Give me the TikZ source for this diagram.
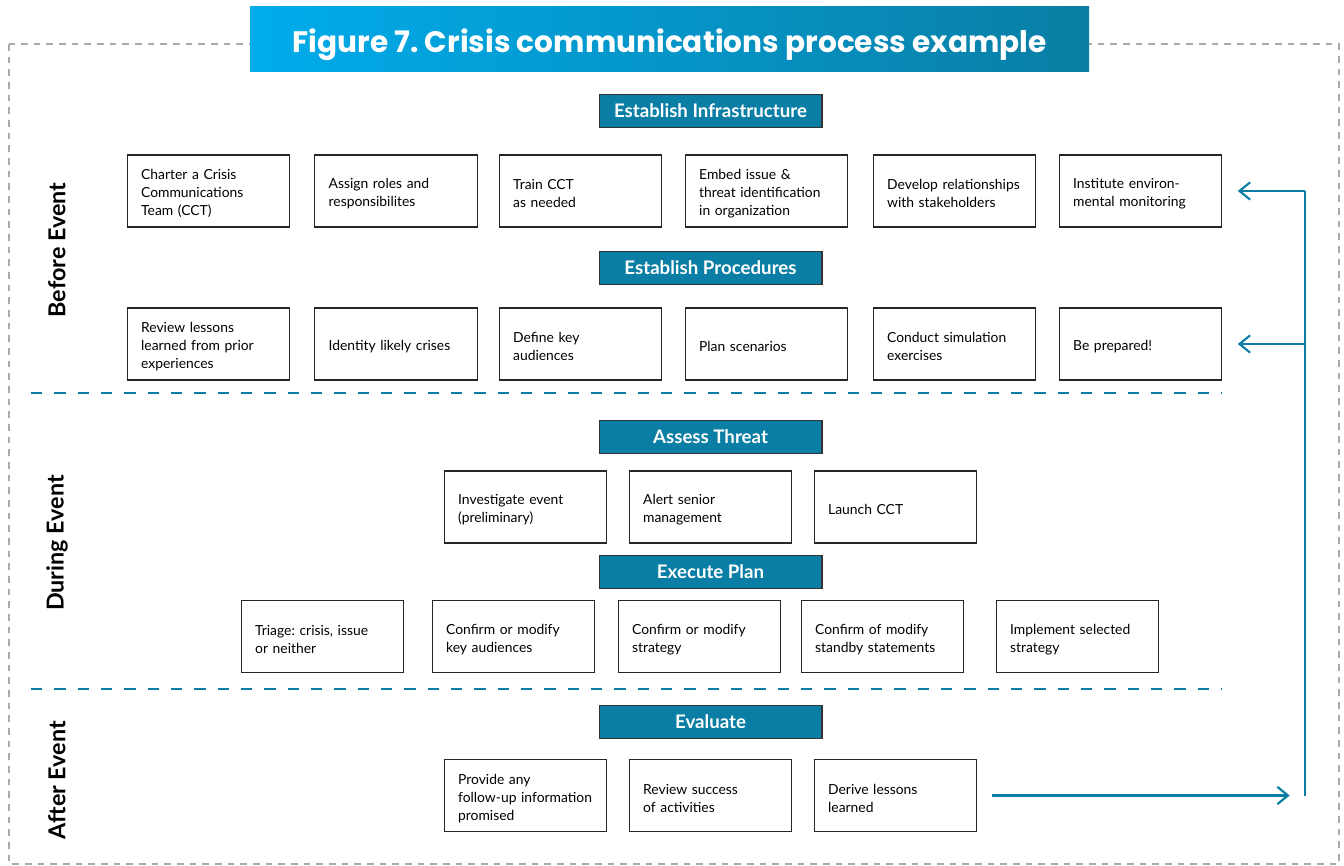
\documentclass[tikz,border=0pt]{standalone}
\usepackage{fontspec}
\setmainfont{Lato}
\newfontfamily\titlefont{Poppins}
\usetikzlibrary{arrows.meta}
\frenchspacing

\definecolor{teal}{RGB}{10,126,164}
\definecolor{skyblue}{RGB}{0,172,236}
\definecolor{framegray}{RGB}{170,170,170}

\tikzset{every picture/.style={line width=0.75pt}}
\tikzset{
  stepbox/.style={draw=black!85, line width=0.9pt, fill=white, align=left, text width=101pt,
    inner xsep=10.5pt, minimum height=54pt, font=\fontsize{10.4}{13.5}\selectfont,
    execute at begin node={\rule{0pt}{12pt}}},
  headbox/.style={draw=black!80, line width=1pt, fill=teal, text=white, minimum width=167pt,
    minimum height=24.75pt, inner sep=0pt, font=\fontsize{14}{16}\selectfont\bfseries},
  phase/.style={rotate=90, font=\fontsize{17.5}{20}\selectfont\bfseries},
  divider/.style={draw=teal, line width=2pt, dash pattern=on 8.5pt off 9pt},
  loopline/.style={draw=teal, line width=1.6pt},
  looparrow/.style={loopline, -{Straight Barb[length=8pt,width=13pt,line width=1.6pt]}, shorten >=11.5pt},
}

\begin{document}
\begin{tikzpicture}[x=0.75pt,y=0.75pt,yscale=-1,xscale=1]
\useasboundingbox (0,0) rectangle (1344,866);

%Dashed frame
\draw [draw=framegray, line width=1.5pt, dash pattern=on 5pt off 4.5pt] (9,44) rectangle (1339,864);

%Title banner
\shade [left color=skyblue, right color=teal] (250,7) rectangle (1089,72);
\node (title) at (669.5,45) [text=white, font=\titlefont\fontsize{22.2}{25}\selectfont\bfseries] {Figure 7. Crisis communications process example};

%Phase labels
\node (before) at (57,250) [phase] {Before Event};
\node (during) at (57,543) [phase] {During Event};
\node (after) at (57,780) [phase] {After Event};

%Dividers
\draw [divider] (31,393) -- (1222,393);
\draw [divider] (31,689) -- (1222,689);

% Establish Infrastructure
\node (infra) at (710.5,111) [headbox] {Establish Infrastructure};
\node (charter) at (208.5,191) [stepbox] {Charter a Crisis\\Communications\\Team (CCT)};
\node (roles) at (396,191) [stepbox] {Assign roles and\\responsibilites};
\node (train) at (580.5,191) [stepbox] {Train CCT\\as needed};
\node (embed) at (766.5,191) [stepbox] {Embed issue \&\\threat identification\\in organization};
\node (relate) at (954.5,191) [stepbox] {Develop relationships\\with stakeholders};
\node (monitor) at (1140.5,191) [stepbox] {Institute environ-\\mental monitoring};

% Establish Procedures
\node (proc) at (710.5,268) [headbox] {Establish Procedures};
\node (lessons) at (208.5,344) [stepbox] {Review lessons\\learned from prior\\experiences};
\node (identify) at (396,344) [stepbox] {Identity likely crises};
\node (define) at (580.5,344) [stepbox] {Define key\\audiences};
\node (plan) at (766.5,344) [stepbox] {Plan scenarios};
\node (simul) at (954.5,344) [stepbox] {Conduct simulation\\exercises};
\node (prepared) at (1140.5,344) [stepbox] {Be prepared!};

% Assess Threat
\node (assess) at (710.5,437) [headbox] {Assess Threat};
\node (invest) at (525.5,507) [stepbox] {Investigate event\\(preliminary)};
\node (alert) at (710.5,507) [stepbox] {Alert senior\\management};
\node (launch) at (895.5,507) [stepbox] {Launch CCT};

% Execute Plan
\node (execute) at (710.5,572) [headbox] {Execute Plan};
\node (triage) at (322.5,636.5) [stepbox] {Triage: crisis, issue\\or neither};
\node (confaud) at (513.5,636.5) [stepbox] {Confirm or modify\\key audiences};
\node (confstrat) at (699.5,636.5) [stepbox] {Confirm or modify\\strategy};
\node (confstand) at (882.5,636.5) [stepbox] {Confirm of modify\\standby statements};
\node (implement) at (1077.5,636.5) [stepbox] {Implement selected\\strategy};

% Evaluate
\node (evaluate) at (710.5,722) [headbox] {Evaluate};
\node (followup) at (525.5,795.5) [stepbox] {Provide any\\follow-up information\\promised};
\node (review) at (710.5,795.5) [stepbox] {Review success\\of activities};
\node (derive) at (895.5,795.5) [stepbox] {Derive lessons\\learned};

%Feedback loop
\coordinate (loopT) at (1305,191);
\coordinate (loopB) at (1305,795.5);
\draw [loopline] (loopT) -- (loopB);
\draw [looparrow] (loopT) -- (monitor.east);
\draw [looparrow] (loopT |- prepared.east) -- (prepared.east);
\draw [looparrow, shorten <=11pt] (derive.east) -- (derive.east -| loopB);

\end{tikzpicture}
\end{document}
